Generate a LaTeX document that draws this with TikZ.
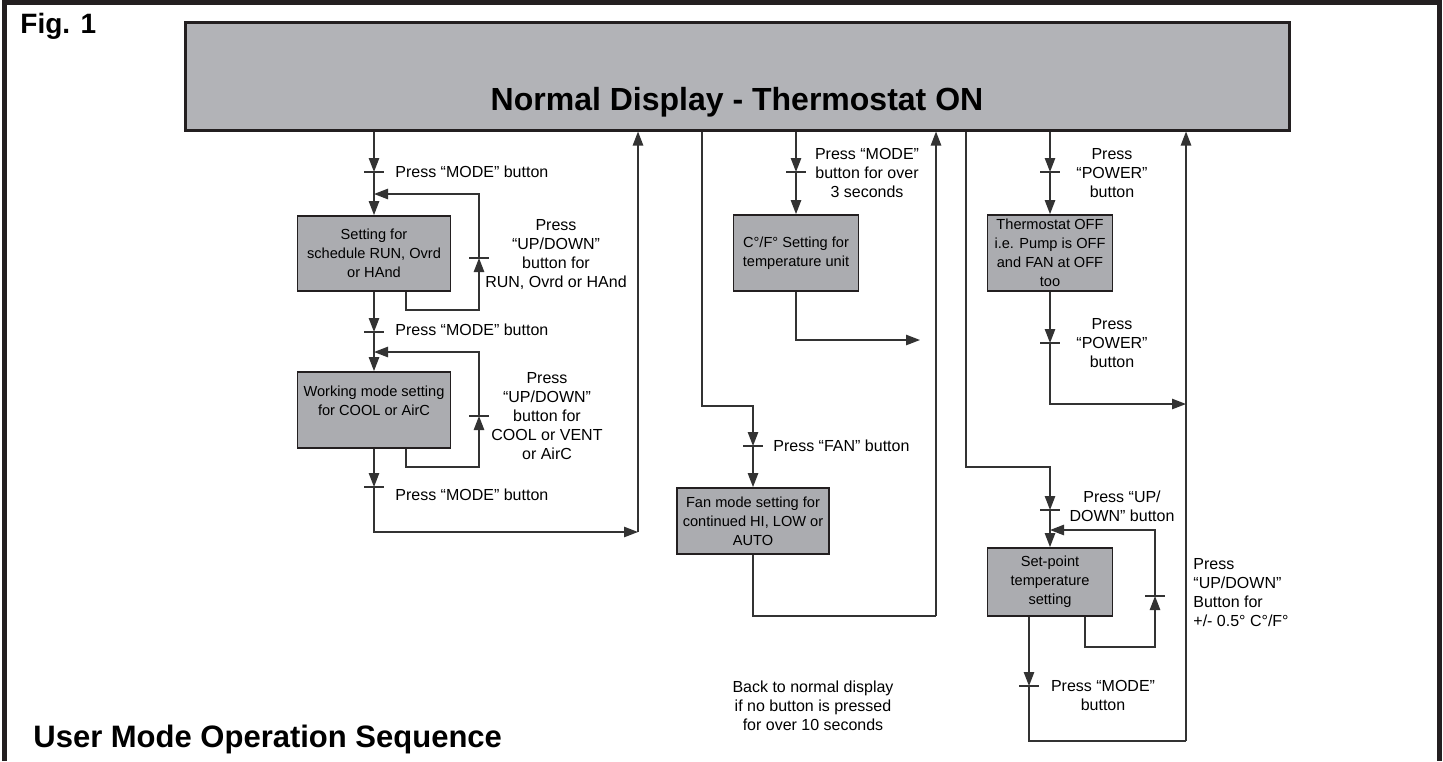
\documentclass[tikz,border=0pt]{standalone}
\usepackage{fontspec}
\setmainfont{Liberation Sans}
\usetikzlibrary{arrows.meta}
\definecolor{framec}{HTML}{231F20}
\definecolor{boxfill}{HTML}{B2B3B7}
\definecolor{sboxfill}{HTML}{ABACB0}
\definecolor{linec}{HTML}{333333}
\tikzset{
  conn/.style={draw=linec, line width=0.7pt},
  arr/.style={conn, -{Triangle[width=5.2pt,length=7pt]}},
  sbox/.style={draw=framec, fill=sboxfill, line width=0.9pt, inner sep=0pt, align=center,
    font=\fontsize{7.3}{9.5}\selectfont},
  lbl/.style={inner sep=0pt, align=center, font=\fontsize{8}{9.5}\selectfont},
  tick/.style={conn}
}
\begin{document}
\begin{tikzpicture}[x=0.5pt,y=-0.5pt]
\useasboundingbox (0,0) rectangle (1443,761);
% frame
\draw[framec, line width=2.6pt, line join=miter] (4.5,761) -- (4.5,2.6) -- (1439.5,2.6) -- (1439.5,761);
\node[anchor=base west, inner sep=0pt, font=\fontsize{14}{16}\selectfont\bfseries] (fig) at (20,33) {Fig. 1};
\node[anchor=base west, inner sep=0pt, font=\fontsize{15.5}{18}\selectfont\bfseries] (ttl) at (33,747) {User Mode Operation Sequence};
% main box
\node[draw=framec, fill=boxfill, line width=1.5pt, minimum width=552pt, minimum height=54pt, inner sep=0pt] (main) at (737,76) {};
\node[anchor=base, inner sep=0pt, font=\fontsize{16}{18}\selectfont\bfseries] (mtitle) at (737,110) {Normal Display - Thermostat ON};
% boxes
\node[sbox, minimum width=76.5pt, minimum height=37.5pt] (b1) at (374,253.5) {Setting for\\schedule RUN, Ovrd\\or HAnd};
\node[sbox, minimum width=76.5pt, minimum height=38pt] (b2) at (374,410) {Working mode setting\\for COOL or AirC\\\mbox{}};
\node[sbox, minimum width=62.5pt, minimum height=38pt] (cf) at (796,253) {C°/F° Setting for\\temperature unit};
\node[sbox, minimum width=76pt, minimum height=33pt] (fan) at (753,521) {Fan mode setting for\\continued HI, LOW or\\AUTO};
\node[sbox, minimum width=62.5pt, minimum height=38pt] (th) at (1050,253) {Thermostat OFF\\i.e. Pump is OFF\\and FAN at OFF\\too};
\node[sbox, minimum width=62.5pt, minimum height=34pt] (sp) at (1050,582) {Set-point\\temperature\\setting};
% coordinates
\coordinate (tA1) at (374,172);
\coordinate (jA1) at (374,194);
\coordinate (tL1) at (479,258);
\coordinate (L1c) at (479,310);
\coordinate (tA2) at (374,332);
\coordinate (jA2) at (374,352);
\coordinate (tL2) at (479,416);
\coordinate (L2c) at (479,467);
\coordinate (tA3) at (374,487);
\coordinate (cA) at (638,532);
\coordinate (cB1) at (702,406);
\coordinate (tB) at (753,446);
\coordinate (cB2) at (936,616);
\coordinate (tC) at (796,172);
\coordinate (eC) at (920,340);
\coordinate (tD1) at (1050,172);
\coordinate (tD2) at (1050,343);
\coordinate (cD) at (1186,404);
\coordinate (cE1) at (966,467);
\coordinate (tE1) at (1050,510);
\coordinate (jE) at (1050,530);
\coordinate (tL3) at (1155,596);
\coordinate (L3c) at (1155,647);
\coordinate (tE2) at (1029,686);
\coordinate (cE) at (1186,741);
% column A
\draw[arr] (main.south -| tA1) -- (tA1);
\draw[arr] (tA1) -- (b1.north);
\draw[arr] ([xshift=16pt]b1.south) |- (L1c) -- (tL1);
\draw[arr] (tL1) |- (jA1);
\draw[arr] (b1.south) -- (tA2);
\draw[arr] (tA2) -- (b2.north);
\draw[arr] ([xshift=16pt]b2.south) |- (L2c) -- (tL2);
\draw[arr] (tL2) |- (jA2);
\draw[arr] (b2.south) -- (tA3);
\draw[arr] (tA3) |- (cA);
\draw[arr] (cA) -- (main.south -| cA);
% column B (fan)
\draw[arr] (main.south -| cB1) -- (cB1) -| (tB);
\draw[arr] (tB) -- (fan.north);
\draw[conn] (fan.south) |- (cB2);
\draw[arr] (cB2) -- (main.south -| cB2);
% column C (C/F)
\draw[arr] (main.south -| tC) -- (tC);
\draw[arr] (tC) -- (cf.north);
\draw[arr] (cf.south) |- (eC);
% column D (power)
\draw[arr] (main.south -| tD1) -- (tD1);
\draw[arr] (tD1) -- (th.north);
\draw[arr] (th.south) -- (tD2);
\draw[arr] (tD2) |- (cD);
\draw[arr] (cE) -- (main.south -| cE);
% column E (set-point)
\draw[arr] (main.south -| cE1) -- (cE1) -| (tE1);
\draw[arr] (tE1) -- (sp.north);
\draw[arr] ([xshift=17.5pt]sp.south) |- (L3c) -- (tL3);
\draw[arr] (tL3) |- (jE);
\draw[arr] ([xshift=-10.5pt]sp.south) -- (tE2);
\draw[conn] (tE2) |- (cE);
% ticks
\foreach \t in {tA1,tA2,tA3,tL1,tL2,tB,tC,tD1,tD2,tE1,tE2,tL3}
  \draw[tick] ([xshift=-5pt]\t) -- ([xshift=5pt]\t);
% labels
\node[lbl, anchor=west] (la1) at (395,172) {Press “MODE” button};
\node[lbl, anchor=west] (la2) at (395,330) {Press “MODE” button};
\node[lbl, anchor=west] (la3) at (395,495) {Press “MODE” button};
\node[lbl] (lu1) at (556,254.5) {Press\\“UP/DOWN”\\button for\\RUN, Ovrd or HAnd};
\node[lbl] (lu2) at (547,416) {Press\\“UP/DOWN”\\button for\\COOL or VENT\\or AirC};
\node[lbl] (lcf) at (867,173) {Press “MODE”\\button for over\\3 seconds};
\node[lbl, anchor=west] (lfan) at (773,446) {Press “FAN” button};
\node[lbl] (lp1) at (1112,173) {Press\\“POWER”\\button};
\node[lbl] (lp2) at (1112,343) {Press\\“POWER”\\button};
\node[lbl] (lud) at (1122,506) {Press “UP/\\DOWN” button};
\node[lbl] (lmd) at (1103,695) {Press “MODE”\\button};
\node[lbl, align=left, anchor=west] (lr) at (1193,592.5) {Press\\“UP/DOWN”\\Button for\\+/- 0.5° C°/F°};
\node[lbl] (lback) at (813,706) {Back to normal display\\if no button is pressed\\for over 10 seconds};
\end{tikzpicture}
\end{document}
